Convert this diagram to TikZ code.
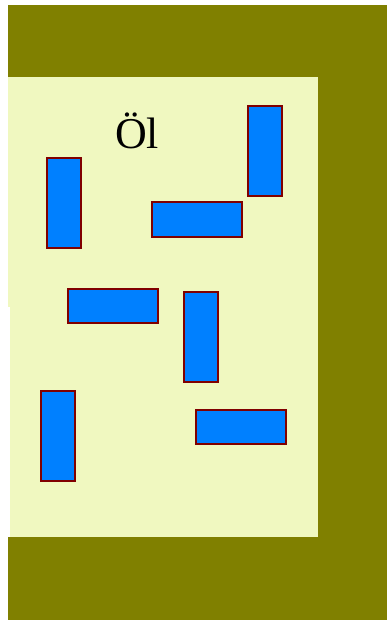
\documentclass[tikz,border=0pt]{standalone}
\usepackage{fontspec}
\setmainfont{Liberation Serif}
\usepackage{xcolor}
\definecolor{wall}{RGB}{128,128,0}
\definecolor{oilbg}{RGB}{240,248,192}
\definecolor{stickblue}{RGB}{0,128,255}
\definecolor{stickedge}{RGB}{128,0,0}

\begin{document}
\begin{tikzpicture}[x=1pt, y=-1pt,
    stick/.style={rectangle, draw=stickedge, fill=stickblue, line width=2pt, inner sep=0pt},
    vstick/.style={stick, minimum width=34pt, minimum height=90pt},
    hstick/.style={stick, minimum width=90pt, minimum height=34pt}]
    \useasboundingbox (0,0) rectangle (387,620);
    % frame and oil region
    \fill[wall] (8,5) rectangle (387,620);
    \fill[oilbg] (8,77) rectangle (318,537);
    \fill[white] (8,307) rectangle (10,537);
    \node[anchor=base, font=\fontsize{44}{44}\selectfont, inner sep=0pt] (label) at (137,149) {Öl};
    % particles
    \node[vstick] (p1) at (64,203) {};
    \node[vstick] (p2) at (264.5,151.5) {};
    \node[hstick] (p3) at (196.5,219.5) {};
    \node[hstick] (p4) at (112.5,305.5) {};
    \node[vstick] (p5) at (200.5,337) {};
    \node[vstick] (p6) at (58,435.5) {};
    \node[hstick] (p7) at (240.5,427) {};
\end{tikzpicture}
\end{document}
